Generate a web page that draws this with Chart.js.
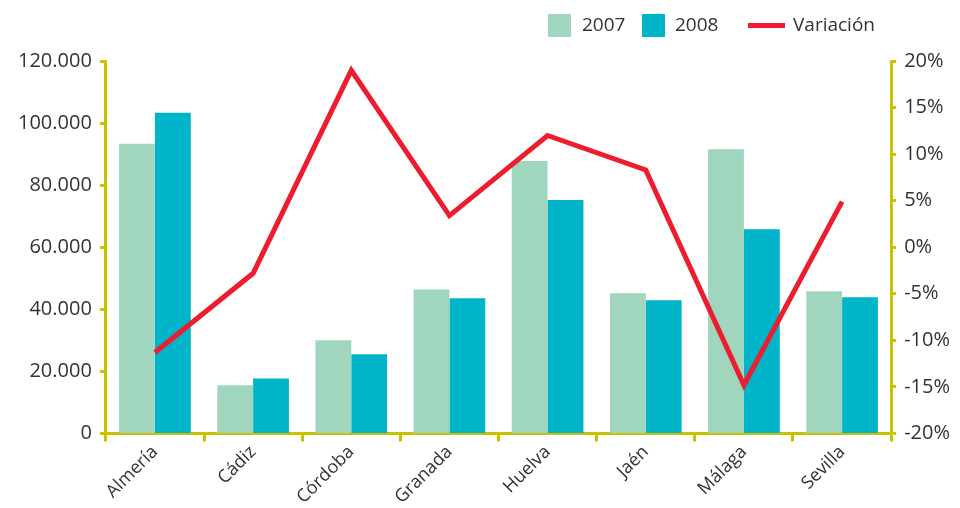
<!DOCTYPE html>
<html>
<head>
<meta charset="utf-8">
<script src="https://cdn.jsdelivr.net/npm/chart.js@4"></script>
<style>
body { margin: 0; background: #fff; }
#contenedor { position: relative; width: 960px; height: 508px; }
#leyenda { position: absolute; top: 0; left: 0; width: 960px; height: 50px; font-family: 'Open Sans', sans-serif; font-size: 19px; color: #333; }
#leyenda span { position: absolute; }
.caja { width: 23px; height: 23px; top: 14px; }
.texto { top: 11px; line-height: 26px; }
.linea { width: 37px; height: 5px; top: 23px; }
</style>
</head>
<body>
<div id="contenedor">
  <canvas id="grafico" width="960" height="508"></canvas>
  <div id="leyenda">
    <span class="caja" style="left:548px;background:#a0d6bd"></span>
    <span class="texto" style="left:582px">2007</span>
    <span class="caja" style="left:642px;background:#00b4c9"></span>
    <span class="texto" style="left:675px">2008</span>
    <span class="linea" style="left:748px;background:#ed1c2e"></span>
    <span class="texto" style="left:793px">Variación</span>
  </div>
</div>
<script>
var provincias = ['Almería', 'Cádiz', 'Córdoba', 'Granada', 'Huelva', 'Jaén', 'Málaga', 'Sevilla'];
var valores2007 = [93300, 15500, 30000, 46400, 87800, 45200, 91600, 45800];
var valores2008 = [103300, 17700, 25500, 43600, 75200, 42900, 65800, 43900];
var variacion = [-11.3, -2.8, 19.0, 3.4, 12.0, 8.3, -14.8, 4.9];

var colorEje = '#c8c200';
var colorTexto = '#333333';
var fuente = "'Open Sans', sans-serif";

function formatoMiles(v) {
    return String(v).replace(/\B(?=(\d{3})+(?!\d))/g, '.');
}

var ctx = document.getElementById('grafico');

new Chart(ctx, {
    type: 'bar',
    data: {
        labels: provincias,
        datasets: [
            {
                type: 'line',
                label: 'Variación',
                data: variacion,
                yAxisID: 'y1',
                borderColor: '#ed1c2e',
                borderWidth: 5,
                pointRadius: 0,
                tension: 0,
                fill: false,
                order: 0
            },
            {
                label: '2007',
                data: valores2007,
                backgroundColor: '#a0d6bd',
                yAxisID: 'y',
                order: 1
            },
            {
                label: '2008',
                data: valores2008,
                backgroundColor: '#00b4c9',
                yAxisID: 'y',
                order: 1
            }
        ]
    },
    options: {
        responsive: false,
        animation: false,
        layout: { padding: { top: 61, left: 10, right: 2, bottom: 0 } },
        datasets: { bar: { categoryPercentage: 0.73, barPercentage: 1 } },
        plugins: {
            legend: { display: false },
            tooltip: { enabled: false }
        },
        scales: {
            x: {
                z: 1,
                grid: { drawOnChartArea: false, drawTicks: true, tickLength: 8, tickWidth: 3, tickColor: colorEje, offset: true },
                border: { color: colorEje, width: 3 },
                ticks: { minRotation: 45, maxRotation: 45, color: colorTexto, font: { family: fuente, size: 18 }, padding: 0 }
            },
            y: {
                position: 'left',
                min: 0,
                max: 120000,
                grid: { drawOnChartArea: false, drawTicks: true, tickLength: 6, tickWidth: 3, tickColor: colorEje },
                border: { color: colorEje, width: 3 },
                ticks: { stepSize: 20000, color: colorTexto, font: { family: fuente, size: 20 }, padding: 8, callback: function(v) { return formatoMiles(v); } }
            },
            y1: {
                position: 'right',
                min: -20,
                max: 20,
                grid: { drawOnChartArea: false, drawTicks: true, tickLength: 5, tickWidth: 3, tickColor: colorEje },
                border: { color: colorEje, width: 3 },
                ticks: { stepSize: 5, color: colorTexto, font: { family: fuente, size: 20 }, padding: 8, callback: function(v) { return v + '%'; } }
            }
        }
    }
});
</script>
</body>
</html>
